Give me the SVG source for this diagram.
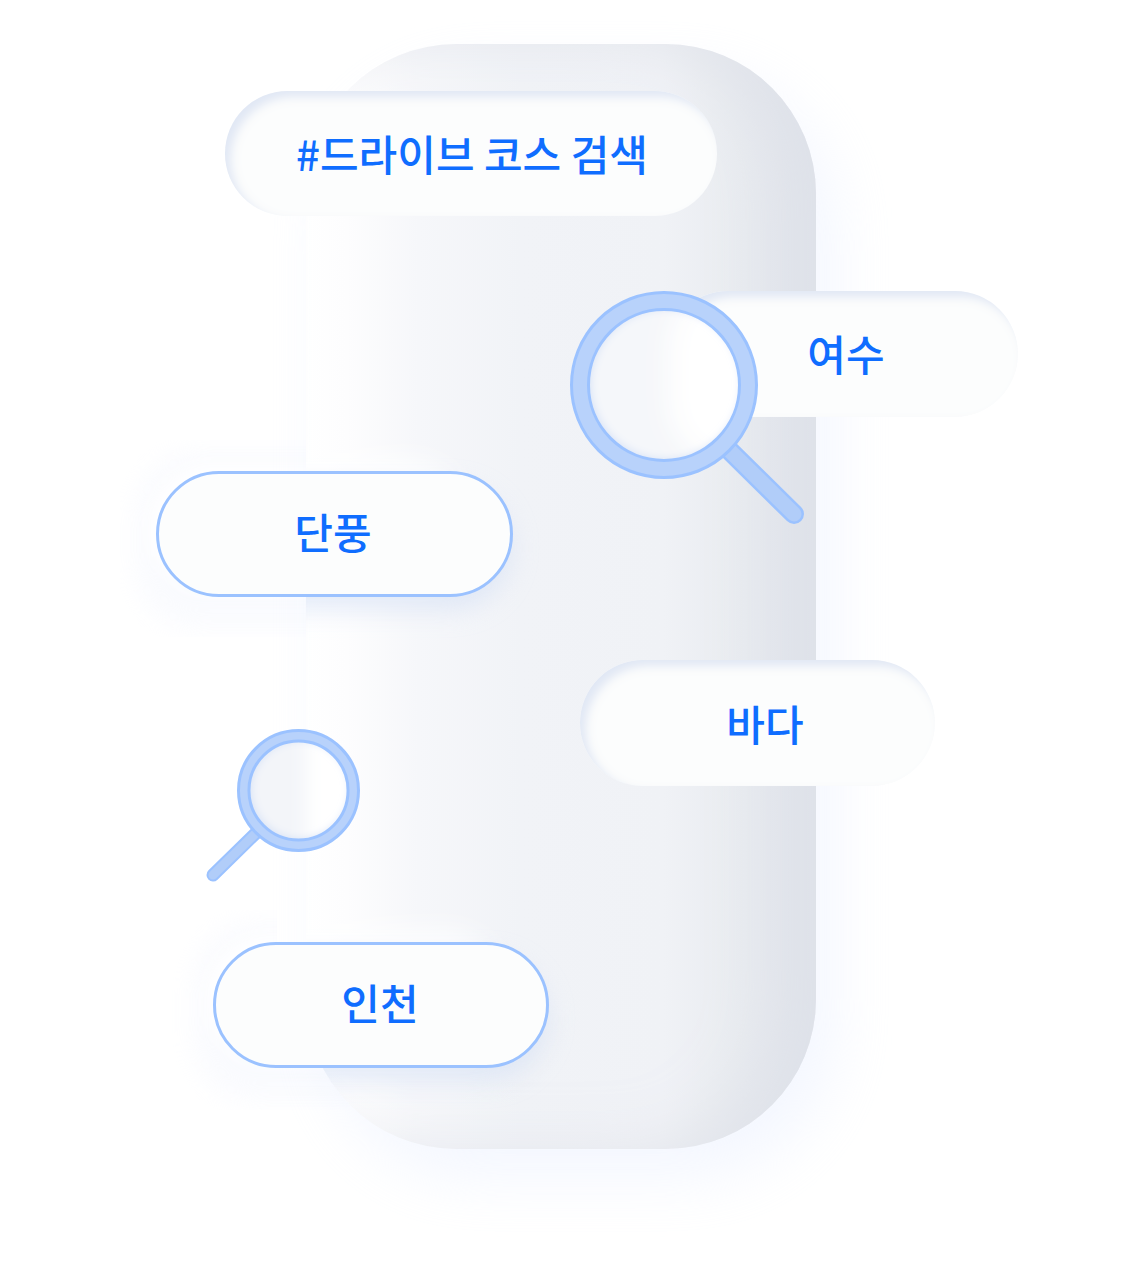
<svg xmlns="http://www.w3.org/2000/svg" width="1125" height="1281" viewBox="0 0 1125 1281">
<style>
.lbl{font-family:"Noto Sans CJK KR","Noto Sans",sans-serif;font-size:42px;font-weight:500;fill:#0f6dff;text-anchor:middle}
.edge{fill:#fcfdfd;stroke:#9bc2ff;stroke-width:3}
.soft{fill:#fcfdfd}
.ring{fill:#b8d2fb;fill-rule:evenodd;stroke:#9bc2ff;stroke-width:3}
</style>
<defs>
<filter id="b40" x="-30%" y="-30%" width="160%" height="160%"><feGaussianBlur stdDeviation="30"/></filter>
<filter id="b14" x="-30%" y="-60%" width="160%" height="220%"><feGaussianBlur stdDeviation="13"/></filter>
<filter id="b9" x="-30%" y="-60%" width="160%" height="220%"><feGaussianBlur stdDeviation="9"/></filter>
<filter id="panelIn" x="-20%" y="-20%" width="140%" height="140%">
<feGaussianBlur in="SourceAlpha" stdDeviation="28" result="a"/>
<feOffset in="a" dx="-45" dy="0" result="ao"/>
<feFlood flood-color="#dcdfe7" flood-opacity=".6" result="d"/>
<feComposite in="d" in2="ao" operator="out" result="dd"/>
<feComposite in="dd" in2="SourceAlpha" operator="in" result="dark"/>
<feMerge><feMergeNode in="SourceGraphic"/><feMergeNode in="dark"/></feMerge>
</filter>
<filter id="pillIn" x="-10%" y="-30%" width="120%" height="160%">
<feGaussianBlur in="SourceAlpha" stdDeviation="5" result="a"/>
<feOffset in="a" dx="6" dy="6" result="ao"/>
<feFlood flood-color="#e0e7f4" result="d"/>
<feComposite in="d" in2="ao" operator="out" result="dd"/>
<feComposite in="dd" in2="SourceAlpha" operator="in" result="dark"/>
<feMerge><feMergeNode in="SourceGraphic"/><feMergeNode in="dark"/></feMerge>
</filter>
<filter id="lensIn" x="-20%" y="-20%" width="140%" height="140%">
<feGaussianBlur in="SourceAlpha" stdDeviation="5" result="a"/>
<feOffset in="a" dx="2" dy="-1" result="ao"/>
<feFlood flood-color="#d2dff6" result="d"/>
<feComposite in="d" in2="ao" operator="out" result="dd"/>
<feComposite in="dd" in2="SourceAlpha" operator="in"/>
</filter>
<linearGradient id="panelG" x1="306" y1="0" x2="816" y2="0" gradientUnits="userSpaceOnUse">
<stop offset="0" stop-color="#ffffff"/><stop offset=".08" stop-color="#fdfdfe"/><stop offset=".22" stop-color="#f6f7fa"/><stop offset=".42" stop-color="#f1f3f7"/><stop offset=".7" stop-color="#f0f2f6"/><stop offset=".86" stop-color="#e8ebf0"/><stop offset="1" stop-color="#e2e5ec"/>
</linearGradient>
<clipPath id="haloClip5"><path d="M170 910H277V975H350V1110H170Z"/></clipPath>
<clipPath id="haloClip3"><rect x="120" y="440" width="186" height="197"/></clipPath>
<clipPath id="panelClip"><rect x="306" y="44" width="510" height="1105" rx="150"/></clipPath>
<clipPath id="lens1"><circle cx="664" cy="385" r="75"/></clipPath>
<clipPath id="lens2"><circle cx="298.500" cy="790.500" r="49"/></clipPath>
</defs>

<g id="halos">
<g clip-path="url(#haloClip3)">
<rect x="136" y="452" width="355" height="176" rx="62" fill="#eef2fd" opacity=".3" filter="url(#b14)"/>
<rect x="150" y="465" width="355" height="124" rx="62" fill="#fff" filter="url(#b9)"/>
</g>
<g clip-path="url(#haloClip5)">
<rect x="194" y="923" width="334" height="178" rx="62" fill="#eef2fd" opacity=".3" filter="url(#b14)"/>
<rect x="207" y="936" width="334" height="124" rx="62" fill="#fff" filter="url(#b9)"/>
</g>
</g>

<g id="panel">
<rect x="326" y="74" width="510" height="1105" rx="150" fill="#e3ebff" opacity=".4" filter="url(#b40)"/>
<rect x="306" y="44" width="510" height="1105" rx="150" fill="url(#panelG)" filter="url(#panelIn)"/>
</g>

<g id="pill-search">
<rect x="225" y="91" width="492" height="125" rx="62.500" class="soft" filter="url(#pillIn)"/>
<text x="472" y="171" class="lbl">#드라이브 코스 검색</text>
</g>

<g id="pill-yeosu">
<rect x="665" y="291" width="353" height="126" rx="63" class="soft" filter="url(#pillIn)"/>
<text x="846" y="371" class="lbl">여수</text>
</g>

<g id="pill-danpung">
<g clip-path="url(#panelClip)">
<rect x="147" y="462" width="320" height="124" rx="62" fill="#fff" filter="url(#b14)"/>
<rect x="167" y="486" width="345" height="124" rx="62" fill="#d3dff4" opacity=".6" filter="url(#b14)"/>
</g>
<rect x="157.500" y="472.500" width="354" height="123" rx="61.500" class="edge"/>
<text x="333" y="549" class="lbl">단풍</text>
</g>

<g id="pill-bada">
<rect x="580" y="660" width="355" height="126" rx="63" class="soft" filter="url(#pillIn)"/>
<text x="765" y="741" class="lbl">바다</text>
</g>

<g id="pill-incheon">
<g clip-path="url(#panelClip)">
<rect x="204" y="933" width="300" height="124" rx="62" fill="#fff" filter="url(#b14)"/>
<rect x="224" y="957" width="324" height="124" rx="62" fill="#d3dff4" opacity=".6" filter="url(#b14)"/>
</g>
<rect x="214.500" y="943.500" width="333" height="123" rx="61.500" class="edge"/>
<text x="380" y="1020" class="lbl">인천</text>
</g>

<g id="magnifier-large">
<g clip-path="url(#lens1)">
<rect x="560" y="280" width="210" height="210" fill="#f2f4f8"/>
<rect x="668" y="285" width="353" height="180" rx="63" fill="#fff" filter="url(#b14)"/>
<circle cx="664" cy="385" r="75" fill="#fff" opacity=".25"/>
<circle cx="664" cy="385" r="76" fill="#000" filter="url(#lensIn)"/>
</g>
<line x1="728" y1="449" x2="794" y2="514" stroke="#9bc2ff" stroke-width="20" stroke-linecap="round"/>
<line x1="728" y1="449" x2="794" y2="514" stroke="#b1cdf9" stroke-width="15" stroke-linecap="round"/>
<path class="ring" d="M664 292.500a92.500 92.500 0 1 0 0 185a92.500 92.500 0 1 0 0-185zM664 309.500a75.500 75.500 0 1 1 0 151a75.500 75.500 0 1 1 0-151z"/>
</g>

<g id="magnifier-small">
<g clip-path="url(#lens2)">
<rect x="240" y="730" width="120" height="120" fill="#f3f5f9"/>
<rect x="306" y="725" width="80" height="130" fill="#fff" filter="url(#b9)"/>
<circle cx="298.500" cy="790.500" r="50" fill="#000" filter="url(#lensIn)"/>
</g>
<line x1="256" y1="833" x2="213" y2="875" stroke="#9bc2ff" stroke-width="13" stroke-linecap="round"/>
<line x1="256" y1="833" x2="213" y2="875" stroke="#b1cdf9" stroke-width="9" stroke-linecap="round"/>
<path class="ring" d="M298.500 730.500a60 60 0 1 0 0 120a60 60 0 1 0 0-120zM298.500 741a49.500 49.500 0 1 1 0 99a49.500 49.500 0 1 1 0-99z"/>
</g>
</svg>
